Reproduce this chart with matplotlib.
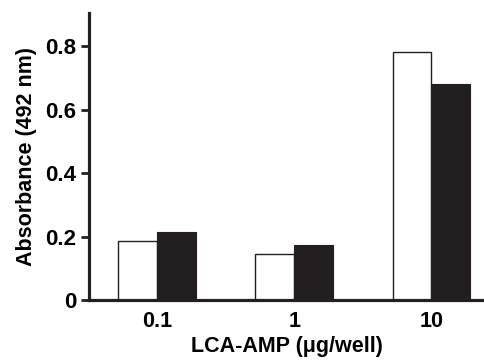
import numpy as np
import matplotlib
matplotlib.use("Agg")
import matplotlib.pyplot as plt

# LCA-AMP dose (ug/well) and absorbance readings
doses = ["0.1", "1", "10"]
open_bars = [0.185, 0.145, 0.78]
filled_bars = [0.215, 0.175, 0.68]
y_ticks = [0, 0.2, 0.4, 0.6, 0.8]
y_tick_labels = ["0", "0.2", "0.4", "0.6", "0.8"]

plt.rcParams["font.family"] = ["Liberation Sans", "DejaVu Sans"]
plt.rcParams["font.weight"] = "bold"

fig = plt.figure(figsize=(4.85, 3.62), dpi=100)
ax = fig.add_axes([0.1825, 0.171, 0.8175, 0.7937])

x = np.arange(len(doses))
w = 0.283
ax.bar(x - w / 2, open_bars, w, color="white", edgecolor="#231f20", linewidth=1.0)
ax.bar(x + w / 2, filled_bars, w, color="#231f20", edgecolor="#231f20", linewidth=0.8)

ax.set_xlim(-0.5, 2.39)
ax.set_ylim(0, 0.905)

ax.spines["top"].set_visible(False)
ax.spines["right"].set_visible(False)
for s in ["left", "bottom"]:
    ax.spines[s].set_linewidth(2.3)
    ax.spines[s].set_color("#231f20")

ax.set_xticks(x)
ax.set_xticklabels(doses, fontsize=15.5, fontweight="bold")
ax.set_yticks(y_ticks)
ax.set_yticklabels(y_tick_labels, fontsize=16, fontweight="bold")
ax.tick_params(axis="x", length=0, pad=8)
ax.tick_params(axis="y", length=6, width=2.0, color="#231f20", pad=3, direction="out")

ax.set_xlabel("LCA-AMP (\u03bcg/well)", fontsize=15.5, fontweight="bold", labelpad=3)
ax.set_ylabel("Absorbance (492 nm)", fontsize=15.5, fontweight="bold", labelpad=6)

fig.savefig("out.png", dpi=100)
